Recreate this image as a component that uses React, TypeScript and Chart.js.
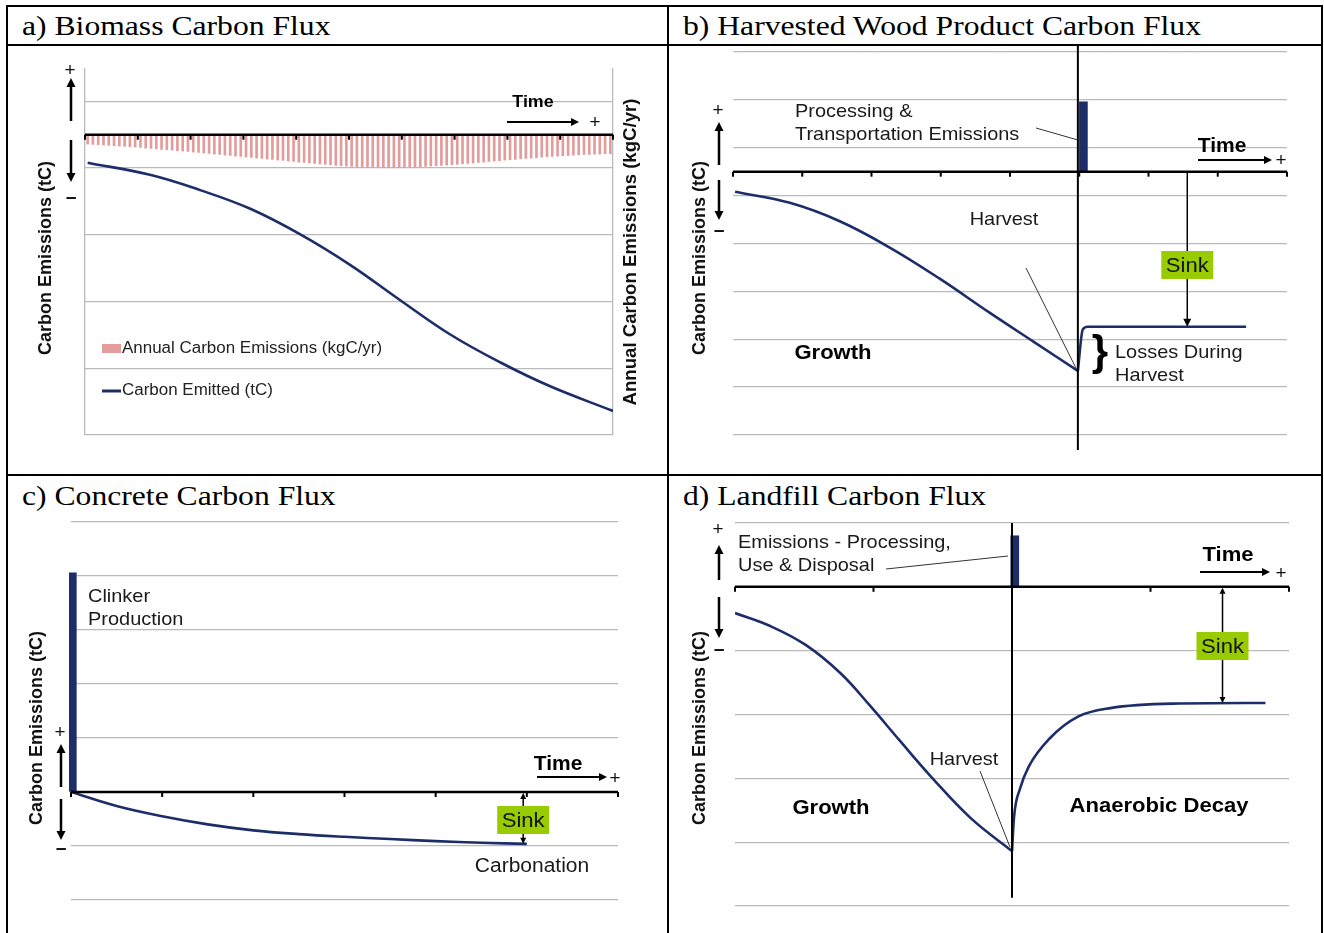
import React, { useEffect, useRef } from 'react';
import { Chart, registerables } from 'chart.js';
Chart.register(...registerables);

const W = 1324;
const H = 933;
const SANS = '"Liberation Sans", Arial, sans-serif';
const SERIF = '"Liberation Serif", "Times New Roman", serif';
const NAVY = '#1c2d6a';
const GRID = '#bababa';
const GREEN = '#99cc00';
const INK = '#1a1a1a';
const PINK = '#e29c9c';

// ---------------- Panel a: Biomass ----------------
const aAnnualEmissions = [
  -2.8, -2.9, -3.0, -3.1, -3.2, -3.3, -3.4, -3.5, -3.6, -3.7,
  -3.8, -4.0, -4.1, -4.2, -4.4, -4.5, -4.6, -4.8, -4.9, -5.0,
  -5.2, -5.3, -5.5, -5.6, -5.8, -5.9, -6.1, -6.2, -6.4, -6.5,
  -6.7, -6.8, -7.0, -7.1, -7.3, -7.4, -7.6, -7.7, -7.9, -8.0,
  -8.2, -8.3, -8.5, -8.6, -8.8, -8.9, -9.0, -9.2, -9.3, -9.4,
  -9.5, -9.6, -9.7, -9.8, -9.8, -9.9, -9.9, -9.9, -9.9, -9.9,
  -9.8, -9.8, -9.7, -9.6, -9.5, -9.4, -9.3, -9.2, -9.1, -9.0,
  -8.9, -8.7, -8.6, -8.5, -8.3, -8.2, -8.0, -7.9, -7.8, -7.6,
  -7.5, -7.4, -7.2, -7.1, -7.0, -6.9, -6.7, -6.6, -6.5, -6.4,
  -6.3, -6.2, -6.1, -6.0, -5.9, -5.9, -5.8, -5.8, -5.7, -5.7,
];
const aEmittedTime = [0.5, 12.3, 21.8, 31.3, 40.7, 50.2, 59.7, 69.1, 78.6, 88.1, 100];
const aEmittedC = [-0.92, -1.10, -1.33, -1.61, -1.99, -2.45, -2.98, -3.49, -3.91, -4.27, -4.64];
const aTimeTicks = [0, 10, 20, 30, 40, 50, 60, 70, 80, 90, 100];
const aGridValues = [-5, -4, -3, -2, -1, 0];
const aEdgeValues = [0, 100];

// ---------------- Panel b: Harvested wood product ----------------
const bGrowthTime = [0.03, 0.82, 1.55, 2.27, 2.99, 3.71, 4.36, 4.98];
const bGrowthC = [-0.42, -0.65, -1.04, -1.59, -2.24, -2.95, -3.57, -4.16];
const bStoredTime = [4.98, 5.05, 5.12, 7.41];
const bStoredC = [-4.16, -3.30, -3.24, -3.24];
const bEmissionTime = [5.06];
const bEmissionC = [1.46];
const bTimeTicks = [0, 1, 2, 3, 4, 5, 6, 7, 8];
const bGridValues = [2.5, 1.5, 0.5, -0.5, -1.5, -2.5, -3.5, -4.5, -5.5];
const bHarvestTime = 4.98;
const bSinkTime = 6.56;

// ---------------- Panel c: Concrete ----------------
const cCurveTime = [0, 0.5, 1, 1.5, 2, 2.5, 3, 3.5, 4, 4.5, 5];
const cCurveC = [0, -0.26, -0.45, -0.60, -0.71, -0.78, -0.83, -0.87, -0.91, -0.94, -0.96];
const cClinkerTime = [0.02];
const cClinkerC = [4.06];
const cTimeTicks = [0, 1, 2, 3, 4, 5, 6];
const cGridValues = [-2, -1, 0, 1, 2, 3, 4, 5];
const cSinkTime = 4.96;

// ---------------- Panel d: Landfill ----------------
const dGrowthTime = [0, 0.25, 0.51, 0.76, 0.97, 1.19, 1.41, 1.70, 2.0];
const dGrowthC = [-0.41, -0.61, -0.91, -1.35, -1.85, -2.41, -2.96, -3.62, -4.14];
const dDecayTime = [2.0, 2.015, 2.06, 2.12, 2.27, 2.48, 2.71, 3.16, 3.83];
const dDecayC = [-4.14, -3.6, -3.15, -2.82, -2.38, -2.03, -1.9, -1.83, -1.82];
const dEmissionTime = [2.02];
const dEmissionC = [0.8];
const dTimeTicks = [0, 1, 2, 3, 4];
const dGridValues = [-5, -4, -3, -2, -1, 0, 1];
const dHarvestTime = 2;
const dHarvestLineEnd = -4.87;
const dSinkTime = 3.52;

// ---------------- helpers ----------------
const pts = (xs: number[], ys: number[]) => xs.map((x, i) => ({ x, y: ys[i] }));

function seg(ctx: any, x1: number, y1: number, x2: number, y2: number, w = 1, color = '#000') {
  ctx.save();
  ctx.strokeStyle = color;
  ctx.lineWidth = w;
  ctx.beginPath();
  ctx.moveTo(x1, y1);
  ctx.lineTo(x2, y2);
  ctx.stroke();
  ctx.restore();
}
function head(ctx: any, x: number, y: number, ang: number, size: number, color = '#000') {
  ctx.save();
  ctx.translate(x, y);
  ctx.rotate(ang);
  ctx.fillStyle = color;
  ctx.beginPath();
  ctx.moveTo(0, 0);
  ctx.lineTo(-size, -size * 0.5);
  ctx.lineTo(-size, size * 0.5);
  ctx.closePath();
  ctx.fill();
  ctx.restore();
}
function arrow(ctx: any, x1: number, y1: number, x2: number, y2: number, w = 1.5, size = 7, both = false) {
  const a = Math.atan2(y2 - y1, x2 - x1);
  const ex = x2 - Math.cos(a) * size * 0.6;
  const ey = y2 - Math.sin(a) * size * 0.6;
  const sx = both ? x1 + Math.cos(a) * size * 0.6 : x1;
  const sy = both ? y1 + Math.sin(a) * size * 0.6 : y1;
  seg(ctx, sx, sy, ex, ey, w);
  head(ctx, x2, y2, a, size);
  if (both) head(ctx, x1, y1, a + Math.PI, size);
}
// horizontal text, slightly widened like the reference artwork
function txt(ctx: any, s: string, x: number, y: number, font: string, align = 'left', color = INK, sx = 1.05) {
  ctx.save();
  ctx.translate(x, y);
  ctx.scale(sx, 1);
  ctx.font = font;
  ctx.fillStyle = color;
  ctx.textAlign = align;
  ctx.textBaseline = 'middle';
  ctx.fillText(s, 0, 0);
  ctx.restore();
}
function vtxt(ctx: any, s: string, x: number, y: number, font: string) {
  ctx.save();
  ctx.translate(x, y);
  ctx.rotate(-Math.PI / 2);
  ctx.font = font;
  ctx.fillStyle = '#111';
  ctx.textAlign = 'center';
  ctx.textBaseline = 'middle';
  ctx.fillText(s, 0, 0);
  ctx.restore();
}
function signs(ctx: any, x: number, plusY: number, up: [number, number], down: [number, number], minusY: number) {
  txt(ctx, '+', x, plusY, `18px ${SANS}`, 'center', '#111');
  arrow(ctx, x + 1, up[0], x + 1, up[1], 2.5, 9);
  arrow(ctx, x + 1, down[0], x + 1, down[1], 2.5, 9);
  txt(ctx, '\u2212', x + 1, minusY, `bold 18px ${SANS}`, 'center', '#111');
}
function timeLabel(ctx: any, cx: number, ty: number, x1: number, x2: number, ay: number, px: number, py: number, size: number) {
  txt(ctx, 'Time', cx, ty, `bold ${size}px ${SANS}`, 'center', '#000');
  arrow(ctx, x1, ay, x2, ay, 1.8, 8);
  txt(ctx, '+', px, py, `18px ${SANS}`, 'center', '#111');
}
function sinkBox(ctx: any, cx: number, cy: number) {
  ctx.save();
  ctx.fillStyle = GREEN;
  ctx.fillRect(cx - 26, cy - 14, 52, 28);
  ctx.restore();
  txt(ctx, 'Sink', cx, cy + 1, `21px ${SANS}`, 'center', '#111');
}
function zeroAxis(ctx: any, chart: any, xs: any, y0: number, ticks: number[]) {
  const ca = chart.chartArea;
  seg(ctx, ca.left, y0, ca.right, y0, 2.5, '#000');
  ticks.forEach((t) => {
    const px = xs.getPixelForValue(t);
    seg(ctx, px, y0, px, y0 + 5, 2, '#000');
  });
}

function gridAxis(values: number[], extra: any) {
  return {
    type: 'linear',
    display: true,
    offset: false,
    ...extra,
    afterBuildTicks: (s: any) => {
      s.ticks = values.map((v) => ({ value: v }));
    },
    afterFit: (s: any) => {
      if (s.isHorizontal()) s.height = 0;
      else s.width = 0;
    },
    ticks: { display: false },
    grid: { color: GRID, lineWidth: 1.3, drawTicks: false, offset: false },
    border: { display: false },
  };
}
function hiddenX(min: number, max: number) {
  return { type: 'linear', display: false, offset: false, min, max, grid: { offset: false } };
}
function baseOptions(area: number[], scales: any) {
  return {
    responsive: false,
    animation: false,
    devicePixelRatio: 1,
    events: [],
    layout: { padding: { left: area[0], top: area[1], right: W - area[2], bottom: H - area[3] } },
    plugins: { legend: { display: false }, tooltip: { enabled: false } },
    scales,
  };
}
function curve(data: any[], smooth: boolean, label = '') {
  return {
    type: 'line',
    label,
    data,
    borderColor: NAVY,
    borderWidth: 2.6,
    pointRadius: 0,
    tension: smooth ? 0.4 : 0,
    cubicInterpolationMode: smooth ? 'default' : 'monotone',
    order: 0,
  };
}
function pulse(data: any[], thickness: number) {
  return {
    type: 'bar',
    data,
    backgroundColor: NAVY,
    barThickness: thickness,
    clip: false,
    order: 1,
  };
}
const FONT = `19px ${SANS}`;
const BOLD = `bold 21px ${SANS}`;
const YT = `bold 18px ${SANS}`;

// ---------------- configs ----------------
function configA(): any {
  const annot = {
    id: 'annotA',
    afterDatasetsDraw(chart: any) {
      const { ctx, scales } = chart;
      const y0 = scales.y2.getPixelForValue(0);
      zeroAxis(ctx, chart, scales.x, y0, aTimeTicks);
      vtxt(ctx, 'Carbon Emissions (tC)', 46, 258, YT);
      vtxt(ctx, 'Annual Carbon Emissions (kgC/yr)', 631, 252, `bold 18.6px ${SANS}`);
      signs(ctx, 70, 71, [121, 78], [140, 182], 199);
      timeLabel(ctx, 533, 102, 507, 579, 122, 595, 123, 17);
      ctx.save();
      ctx.fillStyle = PINK;
      ctx.fillRect(102, 344, 19, 9);
      ctx.restore();
      txt(ctx, 'Annual Carbon Emissions (kgC/yr)', 122, 349, `16px ${SANS}`, 'left', '#222', 1.06);
      seg(ctx, 102, 391, 121, 391, 3, NAVY);
      txt(ctx, 'Carbon Emitted (tC)', 122, 391, `16px ${SANS}`, 'left', '#222', 1.06);
    },
  };
  return {
    type: 'bar',
    data: {
      datasets: [
        { ...curve(pts(aEmittedTime, aEmittedC), true, 'Carbon Emitted (tC)'), yAxisID: 'y' },
        {
          type: 'bar',
          label: 'Annual Carbon Emissions (kgC/yr)',
          data: aAnnualEmissions.map((v, i) => ({ x: i + 0.5, y: v })),
          yAxisID: 'y2',
          backgroundColor: PINK,
          barThickness: 2,
          order: 1,
        },
      ],
    },
    options: baseOptions([85, 68, 613, 435], {
      x: gridAxis(aEdgeValues, { min: 0, max: 100 }),
      y: gridAxis(aGridValues, { min: -5, max: 0.5 }),
      y2: { type: 'linear', display: false, min: -90, max: 20 },
    }),
    plugins: [annot],
  };
}

function configB(): any {
  const annot = {
    id: 'annotB',
    afterDatasetsDraw(chart: any) {
      const { ctx, scales, chartArea: ca } = chart;
      const y0 = scales.y.getPixelForValue(0);
      zeroAxis(ctx, chart, scales.x, y0, bTimeTicks);
      const xh = scales.x.getPixelForValue(bHarvestTime);
      seg(ctx, xh, ca.top - 7, xh, ca.bottom + 15, 2, '#000');
      vtxt(ctx, 'Carbon Emissions (tC)', 700, 258, YT);
      signs(ctx, 718, 111, [165, 122], [180, 220], 232);
      txt(ctx, 'Processing &', 795, 112, FONT);
      txt(ctx, 'Transportation Emissions', 795, 135, FONT);
      seg(ctx, 1036, 128, xh, 140, 1, '#333');
      timeLabel(ctx, 1222, 146, 1198, 1272, 160, 1281, 161, 20);
      txt(ctx, 'Harvest', 1004, 220, FONT, 'center');
      const lastG = bGrowthC.length - 1;
      seg(ctx, 1026, 268, scales.x.getPixelForValue(bGrowthTime[lastG]) - 2, scales.y.getPixelForValue(bGrowthC[lastG]) - 3, 1, '#333');
      const xs = scales.x.getPixelForValue(bSinkTime);
      arrow(ctx, xs, y0, xs, scales.y.getPixelForValue(bStoredC[bStoredC.length - 1]), 1.5, 8);
      sinkBox(ctx, xs, 265);
      txt(ctx, '}', 1100, 353, `bold 42px ${SANS}`, 'center', '#000', 1);
      txt(ctx, 'Losses During', 1115, 353, FONT);
      txt(ctx, 'Harvest', 1115, 376, FONT);
      txt(ctx, 'Growth', 833, 353, BOLD, 'center', '#000');
    },
  };
  return {
    type: 'bar',
    data: {
      datasets: [
        curve(pts(bGrowthTime, bGrowthC), true),
        curve(pts(bStoredTime, bStoredC), false),
        pulse(pts(bEmissionTime, bEmissionC), 8),
      ],
    },
    options: baseOptions([733, 52, 1287, 435], {
      x: hiddenX(0, 8),
      y: gridAxis(bGridValues, { min: -5.5, max: 2.5 }),
    }),
    plugins: [annot],
  };
}

function configC(): any {
  const annot = {
    id: 'annotC',
    afterDatasetsDraw(chart: any) {
      const { ctx, scales } = chart;
      const y0 = scales.y.getPixelForValue(0);
      zeroAxis(ctx, chart, scales.x, y0, cTimeTicks);
      vtxt(ctx, 'Carbon Emissions (tC)', 37, 728, YT);
      signs(ctx, 60, 733, [787, 744], [799, 840], 850);
      txt(ctx, 'Clinker', 88, 597, FONT);
      txt(ctx, 'Production', 88, 620, FONT);
      timeLabel(ctx, 558, 764, 537, 607, 777, 615, 779, 20);
      const xs = scales.x.getPixelForValue(cSinkTime);
      arrow(ctx, xs, y0 + 1, xs, scales.y.getPixelForValue(cCurveC[cCurveC.length - 1]), 1.5, 6, true);
      sinkBox(ctx, xs, 820);
      txt(ctx, 'Carbonation', 532, 866, `20px ${SANS}`, 'center');
    },
  };
  return {
    type: 'bar',
    data: {
      datasets: [
        curve(pts(cCurveTime, cCurveC), true),
        pulse(pts(cClinkerTime, cClinkerC), 7),
      ],
    },
    options: baseOptions([71, 522, 618, 900], {
      x: hiddenX(0, 6),
      y: gridAxis(cGridValues, { min: -2, max: 5 }),
    }),
    plugins: [annot],
  };
}

function configD(): any {
  const annot = {
    id: 'annotD',
    afterDatasetsDraw(chart: any) {
      const { ctx, scales, chartArea: ca } = chart;
      const y0 = scales.y.getPixelForValue(0);
      zeroAxis(ctx, chart, scales.x, y0, dTimeTicks);
      const xh = scales.x.getPixelForValue(dHarvestTime);
      seg(ctx, xh, ca.top, xh, scales.y.getPixelForValue(dHarvestLineEnd), 2, '#000');
      vtxt(ctx, 'Carbon Emissions (tC)', 700, 728, YT);
      signs(ctx, 718, 530, [580, 545], [597, 638], 651);
      txt(ctx, 'Emissions - Processing,', 738, 543, FONT);
      txt(ctx, 'Use & Disposal', 738, 566, FONT);
      seg(ctx, 886, 569, xh - 4, 556, 1, '#333');
      timeLabel(ctx, 1228, 555, 1200, 1270, 572, 1281, 574, 21);
      txt(ctx, 'Harvest', 964, 760, FONT, 'center');
      const lastG = dGrowthC.length - 1;
      seg(ctx, 980, 771, xh - 2, scales.y.getPixelForValue(dGrowthC[lastG]) - 4, 1, '#333');
      const xs = scales.x.getPixelForValue(dSinkTime);
      arrow(ctx, xs, y0 + 1, xs, scales.y.getPixelForValue(dDecayC[dDecayC.length - 1]), 1.5, 6, true);
      sinkBox(ctx, xs, 646);
      txt(ctx, 'Growth', 831, 808, BOLD, 'center', '#000');
      txt(ctx, 'Anaerobic Decay', 1159, 806, BOLD, 'center', '#000');
    },
  };
  return {
    type: 'bar',
    data: {
      datasets: [
        curve(pts(dGrowthTime, dGrowthC), true),
        curve(pts(dDecayTime, dDecayC), false),
        pulse(pts(dEmissionTime, dEmissionC), 8),
      ],
    },
    options: baseOptions([735, 523, 1289, 906], {
      x: hiddenX(0, 4),
      y: gridAxis(dGridValues, { min: -5, max: 1 }),
    }),
    plugins: [annot],
  };
}

function Panel({ make }: { make: () => any }) {
  const ref = useRef<HTMLCanvasElement | null>(null);
  useEffect(() => {
    const chart = new Chart(ref.current as HTMLCanvasElement, make());
    return () => chart.destroy();
  }, []);
  return (
    <canvas
      ref={ref}
      width={W}
      height={H}
      style={{ position: 'absolute', left: 0, top: 0, width: W, height: H }}
    />
  );
}

const line = (left: number, top: number, width: number, height: number) => (
  <div style={{ position: 'absolute', left, top, width, height, background: '#000' }} />
);
const title = (s: string, left: number, top: number) => (
  <div
    style={{
      position: 'absolute',
      left,
      top,
      fontFamily: SERIF,
      fontSize: 28,
      lineHeight: '28px',
      whiteSpace: 'nowrap',
      color: '#000',
      transform: 'scaleX(1.13)',
      transformOrigin: 'left center',
    }}
  >
    {s}
  </div>
);

export default function App() {
  return (
    <div style={{ position: 'absolute', left: 0, top: 0, width: W, height: H, background: '#fff', overflow: 'hidden' }}>
      {title('a) Biomass Carbon Flux', 22, 12)}
      {title('b) Harvested Wood Product Carbon Flux', 683, 12)}
      {title('c) Concrete Carbon Flux', 22, 482)}
      {title('d) Landfill Carbon Flux', 683, 482)}
      <Panel make={configA} />
      <Panel make={configB} />
      <Panel make={configC} />
      <Panel make={configD} />
      {line(6, 5, 1317, 2)}
      {line(6, 5, 2, 928)}
      {line(1321, 5, 2, 928)}
      {line(667, 5, 2, 928)}
      {line(6, 44, 1317, 2)}
      {line(6, 474, 1317, 2)}
    </div>
  );
}
